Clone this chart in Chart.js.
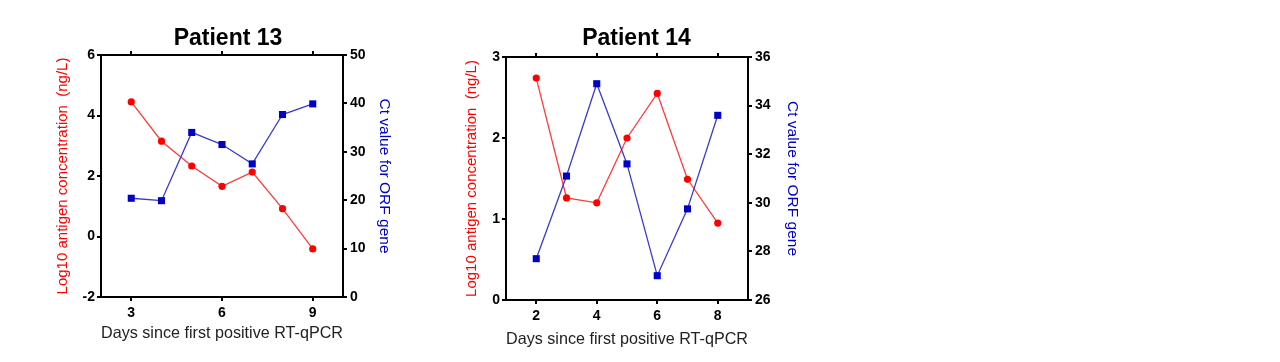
<!DOCTYPE html>
<html>
<head>
<meta charset="utf-8">
<script src="https://cdn.jsdelivr.net/npm/chart.js@4.4.1/dist/chart.umd.min.js"></script>
<style>
  html, body { margin: 0; padding: 0; background: #fff; }
  body { width: 1280px; height: 362px; position: relative; overflow: hidden; }
  .panel { position: absolute; top: 0; }
</style>
</head>
<body>
<div class="panel" style="left:0px"><canvas id="chart13" width="456" height="362"></canvas></div>
<div class="panel" style="left:456px"><canvas id="chart14" width="361" height="362"></canvas></div>

<script>
/* ==============================
   DATA
============================== */
const p13Days = [3, 4, 5, 6, 7, 8, 9];
const p13Antigen = [4.45, 3.15, 2.33, 1.66, 2.13, 0.92, -0.41];
const p13Ct = [20.4, 19.9, 34.0, 31.5, 27.5, 37.7, 39.9];
const p13DayTicks = [3, 6, 9];
const p13AntigenTicks = [-2, 0, 2, 4, 6];
const p13CtTicks = [0, 10, 20, 30, 40, 50];

const p14Days = [2, 3, 4, 5, 6, 7, 8];
const p14Antigen = [2.74, 1.26, 1.2, 2.0, 2.55, 1.49, 0.95];
const p14Ct = [27.7, 31.1, 34.9, 31.6, 27.0, 29.75, 33.6];
const p14DayTicks = [2, 4, 6, 8];
const p14AntigenTicks = [0, 1, 2, 3];
const p14CtTicks = [26, 28, 30, 32, 34, 36];

const xTitle = "Days since first positive RT-qPCR";
const leftTitle = "Log10 antigen concentration  (ng/L)";
const rightTitle = "Ct value for ORF gene";

const RED = "#ff0000";
const RED_LINE = "#ff3b3b";
const BLUE = "#0000c8";
const BLUE_LINE = "#3a3ad0";

Chart.defaults.font.family = "'Liberation Sans', Arial, sans-serif";
Chart.defaults.color = "#000";

/* ==============================
   HELPERS
============================== */
function fixedTicks(values) {
  return (scale) => {
    scale.ticks = values.map((v) => ({ value: v }));
  };
}

function pairs(xs, ys) {
  return xs.map((x, i) => ({ x: x, y: ys[i] }));
}

const axisLine = { display: true, color: "#000", width: 2 };
const tickMarks = { drawOnChartArea: false, drawTicks: true, tickLength: 4, color: "#000", lineWidth: 2 };
const tickFont = { size: 14, weight: "bold" };

/* ============================================================
   ONE PANEL (two y axes: antigen left, Ct right)
   g = layout numbers for this panel
============================================================ */
function makePanel(id, title, days, antigen, ct, dayTicks, agTicks, ctTicks, g) {
  const canvas = document.getElementById(id);

  return new Chart(canvas, {
    type: "line",
    data: {
      datasets: [
        {
          label: rightTitle,
          data: pairs(days, ct),
          yAxisID: "yR",
          borderColor: BLUE_LINE,
          borderWidth: 1.3,
          pointStyle: "rect",
          pointRadius: 5,
          pointBackgroundColor: BLUE,
          pointBorderColor: BLUE,
          pointBorderWidth: 0,
          tension: 0,
        },
        {
          label: leftTitle,
          data: pairs(days, antigen),
          yAxisID: "yL",
          borderColor: RED_LINE,
          borderWidth: 1.3,
          pointStyle: "circle",
          pointRadius: 3.6,
          pointBackgroundColor: RED,
          pointBorderColor: RED,
          pointBorderWidth: 0,
          tension: 0,
        },
      ],
    },
    options: {
      responsive: false,
      animation: false,
      layout: { padding: { top: 0, left: 0, right: 0, bottom: g.padBottom } },
      plugins: {
        legend: { display: false },
        tooltip: { enabled: false },
        title: {
          display: true,
          text: title,
          color: "#000",
          font: { size: 23, weight: "bold" },
          padding: { top: 25, bottom: 0 },
        },
      },
      scales: {
        x: {
          type: "linear",
          position: "bottom",
          min: g.xMin,
          max: g.xMax,
          afterBuildTicks: fixedTicks(dayTicks),
          afterFit: (s) => { s.height = 50; },
          grid: tickMarks,
          border: axisLine,
          ticks: { font: tickFont, padding: 4, maxRotation: 0 },
          title: {
            display: true,
            text: xTitle,
            color: "#222",
            font: { size: 16.5 },
            padding: { top: 0, bottom: g.xTitlePad },
          },
        },
        xTop: {
          type: "linear",
          position: "top",
          min: g.xMin,
          max: g.xMax,
          afterBuildTicks: fixedTicks(dayTicks),
          afterFit: (s) => { s.height = g.topAxis; },
          grid: tickMarks,
          border: axisLine,
          ticks: { display: false },
        },
        yL: {
          type: "linear",
          position: "left",
          min: agTicks[0],
          max: agTicks[agTicks.length - 1],
          afterBuildTicks: fixedTicks(agTicks),
          afterFit: (s) => { s.width = g.leftW; },
          grid: tickMarks,
          border: axisLine,
          ticks: { font: tickFont, padding: 2 },
          title: {
            display: true,
            text: leftTitle,
            color: RED,
            font: { size: 15 },
            padding: { top: g.leftTitlePad, bottom: 0 },
          },
        },
        yR: {
          type: "linear",
          position: "right",
          min: ctTicks[0],
          max: ctTicks[ctTicks.length - 1],
          afterBuildTicks: fixedTicks(ctTicks),
          afterFit: (s) => { s.width = g.rightW; },
          grid: tickMarks,
          border: axisLine,
          ticks: { font: tickFont, padding: 3 },
          title: {
            display: true,
            text: rightTitle,
            color: BLUE,
            font: { size: 15.5 },
            padding: { top: g.rightTitlePad, bottom: 0 },
          },
        },
      },
    },
  });
}

makePanel("chart13", "Patient 13", p13Days, p13Antigen, p13Ct,
  p13DayTicks, p13AntigenTicks, p13CtTicks,
  { xMin: 2, xMax: 10, padBottom: 15, xTitlePad: 4, topAxis: 2.4,
    leftW: 101, rightW: 113, leftTitlePad: 54, rightTitlePad: 62 });

makePanel("chart14", "Patient 14", p14Days, p14Antigen, p14Ct,
  p14DayTicks, p14AntigenTicks, p14CtTicks,
  { xMin: 1, xMax: 9, padBottom: 12, xTitlePad: 1, topAxis: 4.4,
    leftW: 50, rightW: 69, leftTitlePad: 7, rightTitlePad: 15 });
</script>
</body>
</html>
